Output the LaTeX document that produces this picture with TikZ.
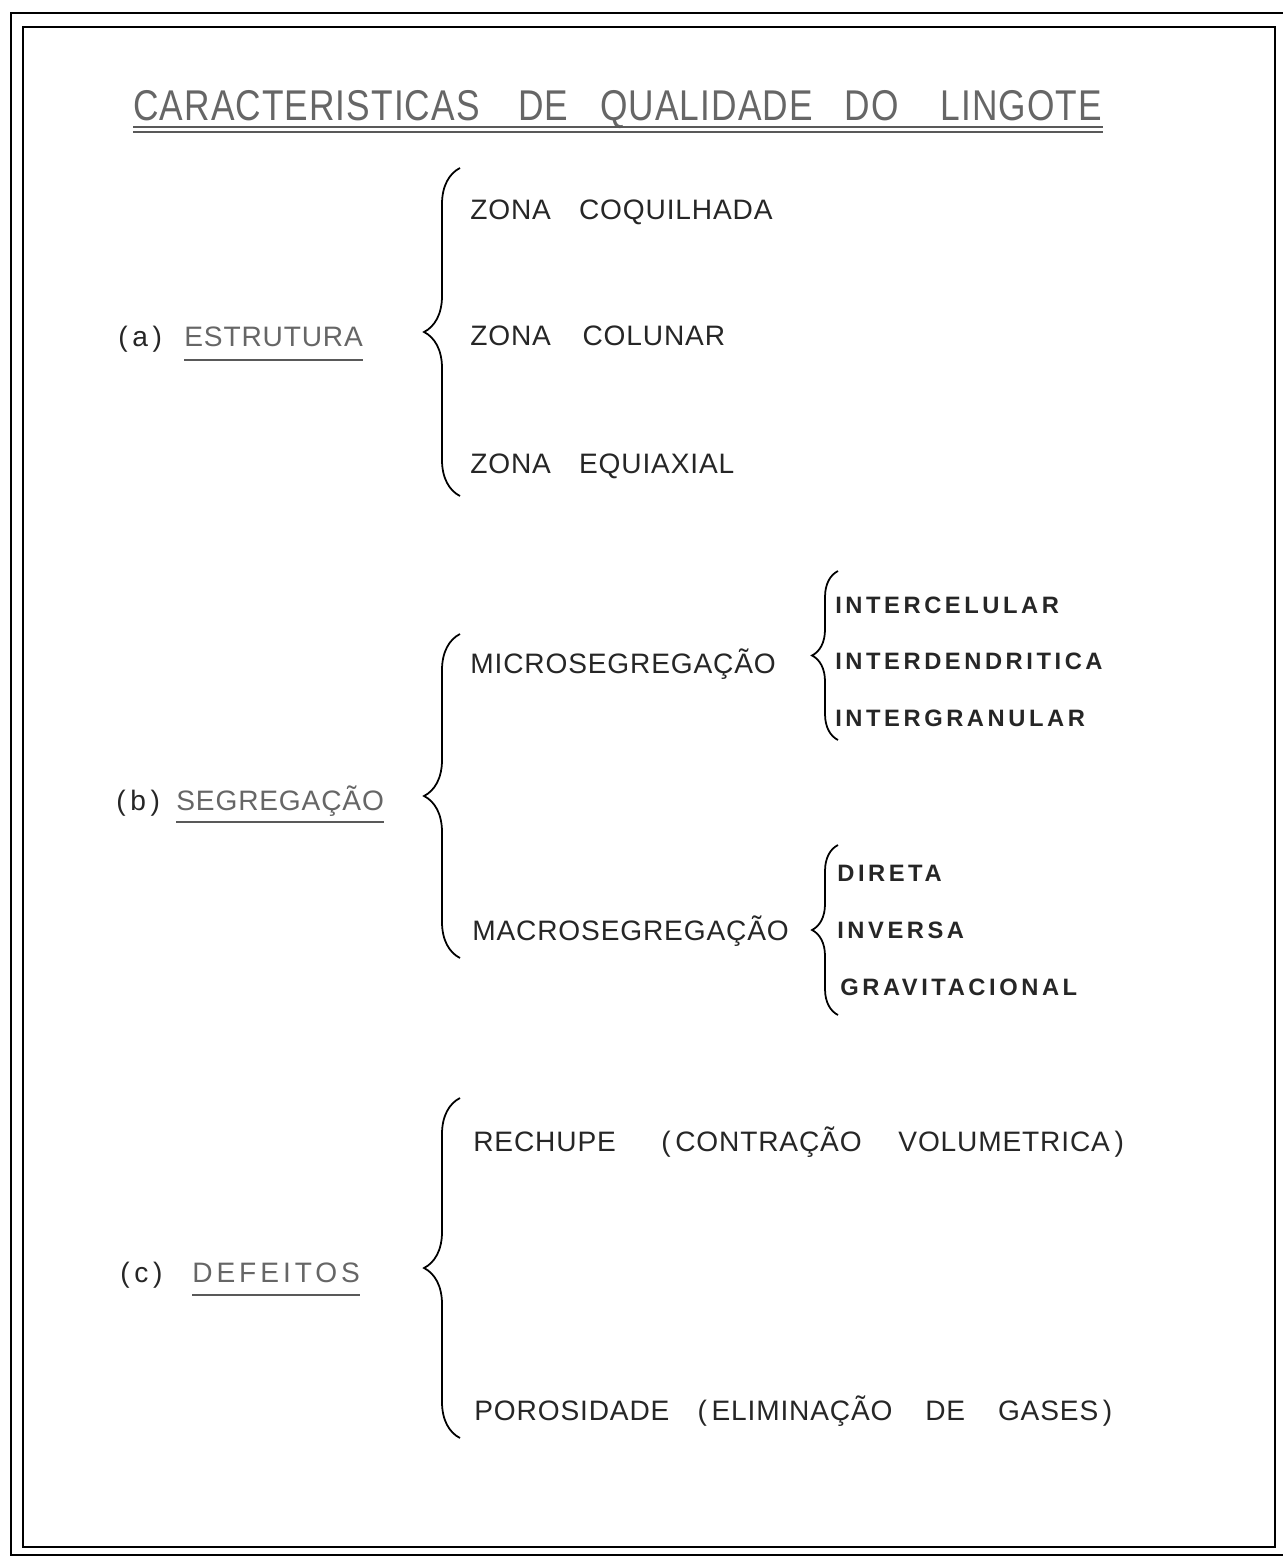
\documentclass[tikz,border=0pt]{standalone}
\usepackage{fontspec}
\setmainfont{Liberation Sans}
\newfontfamily\typefont[LetterSpace=3]{Liberation Sans}
\newfontfamily\subfont[LetterSpace=15]{Liberation Sans}
\usetikzlibrary{positioning,decorations.pathreplacing}

\begin{document}
\begin{tikzpicture}[x=0.02cm,y=-0.02cm,
  title/.style={anchor=base west,inner sep=0pt,text=black!60,
    font=\typefont\fontsize{24.5}{26}\selectfont},
  item/.style={anchor=base west,inner sep=0pt,text=black!85,
    font=\typefont\fontsize{16}{18}\selectfont},
  head/.style={item,text=black!60},
  subitem/.style={anchor=base west,inner sep=0pt,text=black!85,
    font=\subfont\bfseries\fontsize{13.5}{15}\selectfont},
  curly/.style={decorate,decoration={brace,amplitude=#1},line width=1pt},
  curly/.default=0.72cm,
  ruler/.style={line width=0.9pt,black!65},
  frame/.style={line width=1.1pt}]
  \useasboundingbox (0,0) rectangle (1282,1557);

  % frames
  \draw[frame] (11,13) rectangle (1310,1555);
  \draw[frame] (23,27) rectangle (1275,1547);

  % title
  \node[title] (title) at (133,121)
    {\scalebox{0.82}[1]{CARACTERISTICAS\hspace{1.1em}DE\hspace{0.9em}QUALIDADE\hspace{0.9em}DO\hspace{1.2em}LINGOTE}};
  \draw[ruler] ([yshift=-0.12cm]title.base west) -- ([yshift=-0.12cm]title.base east);
  \draw[ruler] ([yshift=-0.22cm]title.base west) -- ([yshift=-0.22cm]title.base east);

  % (a) estrutura
  \node[item] (la) at (118,347) {(\,a\,)};
  \node[head] (est) at (184,347) {ESTRUTURA};
  \draw[ruler] ([yshift=-0.26cm]est.base west) -- ([yshift=-0.26cm]est.base east);
  \node[item] (zcoq) at (470,220) {ZONA\quad COQUILHADA};
  \node[item] (zcol) at (470,346) {ZONA\quad\kern2pt COLUNAR};
  \node[item] (zequ) at (470,473) {ZONA\quad EQUIAXIAL};
  \coordinate (a-top) at (460,168);
  \coordinate (a-bot) at (460,496);
  \draw[curly] (a-bot) -- (a-top);

  % (b) segregacao
  \node[item] (lb) at (116,810) {(\,b\,)};
  \node[head] (seg) at (176,810) {SEGREGAÇÃO};
  \draw[ruler] ([yshift=-0.24cm]seg.base west) -- ([yshift=-0.24cm]seg.base east);
  \node[item] (micro) at (470,673) {MICROSEGREGAÇÃO};
  \node[item] (macro) at (472,940) {MACROSEGREGAÇÃO};
  \coordinate (b-top) at (460,634);
  \coordinate (b-bot) at (460,958);
  \draw[curly] (b-bot) -- (b-top);

  \node[subitem] (icel) at (835,613) {INTERCELULAR};
  \node[subitem] (iden) at (835,669) {INTERDENDRITICA};
  \node[subitem] (igra) at (835,726) {INTERGRANULAR};
  \coordinate (mi-top) at (838,571);
  \coordinate (mi-bot) at (838,740);
  \draw[curly=0.52cm] (mi-bot) -- (mi-top);

  \node[subitem] (dir) at (837,881) {DIRETA};
  \node[subitem] (inv) at (837,938) {INVERSA};
  \node[subitem] (grav) at (840,995) {GRAVITACIONAL};
  \coordinate (ma-top) at (838,845);
  \coordinate (ma-bot) at (838,1015);
  \draw[curly=0.52cm] (ma-bot) -- (ma-top);

  % (c) defeitos
  \node[item] (lc) at (120,1282) {(\,c\,)};
  \node[head] (def) at (192,1282) {\addfontfeature{LetterSpace=14}DEFEITOS};
  \draw[ruler] ([yshift=-0.26cm]def.base west) -- ([yshift=-0.26cm]def.base east);
  \node[item] (rech) at (473,1151) {RECHUPE\quad\ \ (\,CONTRAÇÃO\quad\ VOLUMETRICA\,)};
  \node[item] (poro) at (474,1420) {POROSIDADE\quad (\,ELIMINAÇÃO\quad\,DE\quad\,GASES\,)};
  \coordinate (c-top) at (460,1098);
  \coordinate (c-bot) at (460,1438);
  \draw[curly] (c-bot) -- (c-top);
\end{tikzpicture}
\end{document}
